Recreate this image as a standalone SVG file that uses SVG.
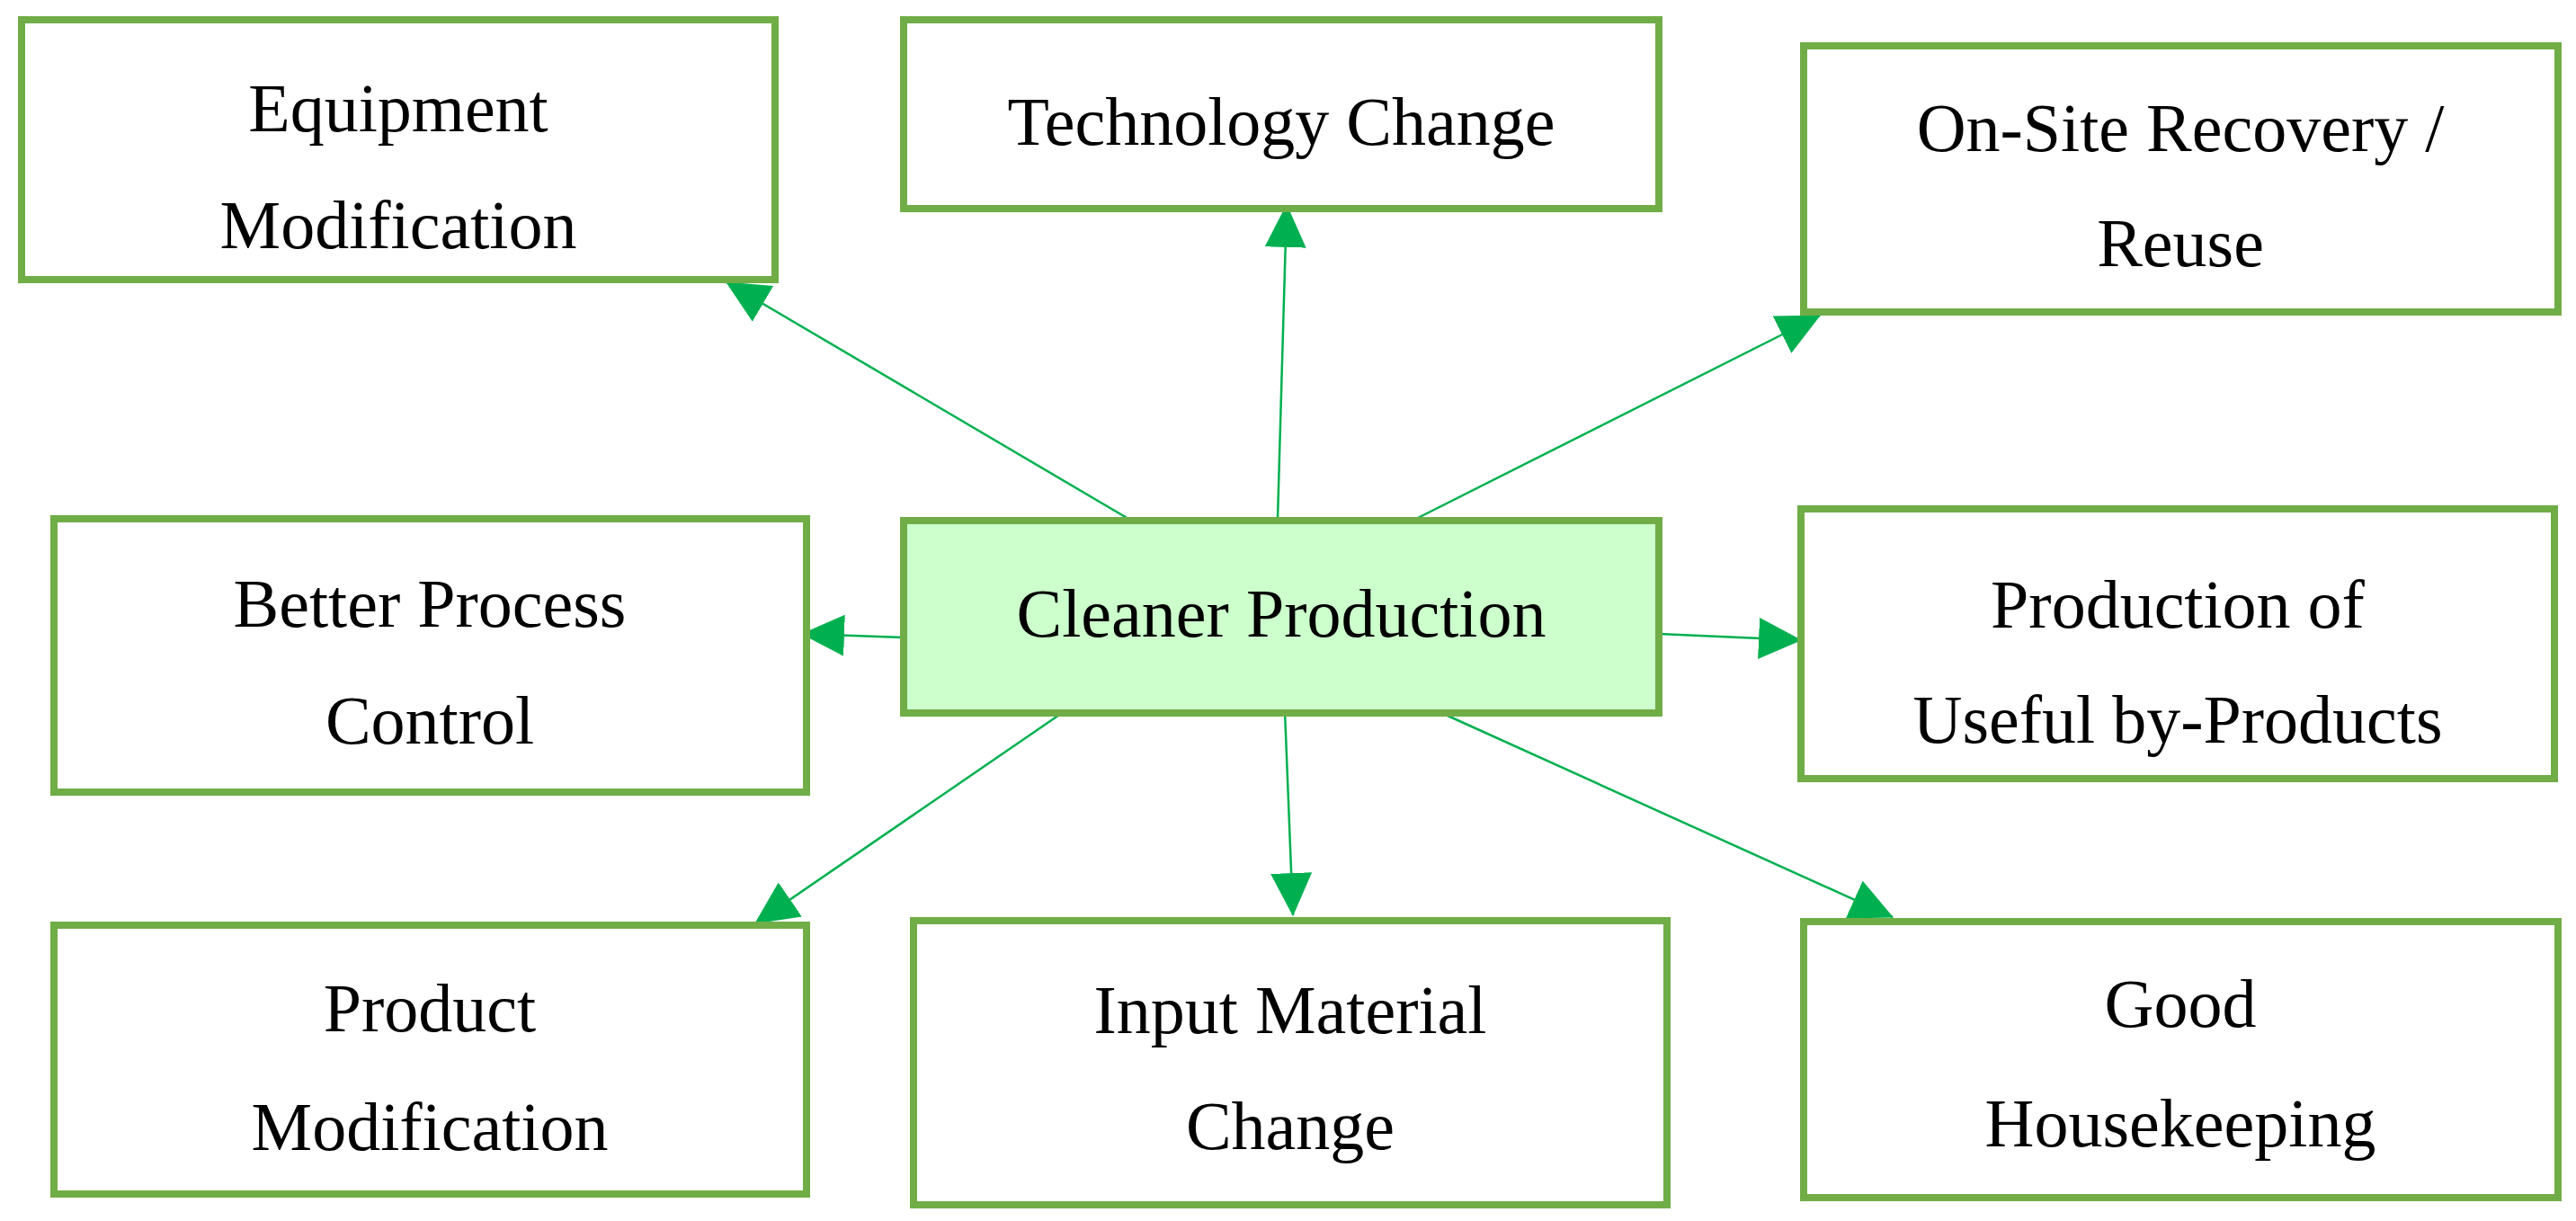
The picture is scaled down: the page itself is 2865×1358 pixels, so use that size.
<svg xmlns="http://www.w3.org/2000/svg" width="2865" height="1358" viewBox="0 0 2865 1358">
<style>
.box{fill:#fff;stroke:#70AD47;stroke-width:8}
.main{fill:#CCFFCC}
.t{font-family:"Liberation Serif","DejaVu Serif",serif;font-size:76px;fill:#000;text-anchor:middle}
.c{stroke:#00B050;stroke-width:2.5;fill:none;marker-end:url(#ah)}
</style>
<defs>
<marker id="ah" markerUnits="userSpaceOnUse" markerWidth="48" markerHeight="46" refX="47" refY="23" orient="auto">
<path d="M0,0 L48,23 L0,46 Z" fill="#00B050"/>
</marker>
</defs>
<rect width="2865" height="1358" fill="#fff"/>
<g id="connectors">
<line class="c" x1="1255" y1="577" x2="808" y2="314"/>
<line class="c" x1="1421" y1="577" x2="1431" y2="228"/>
<line class="c" x1="1575" y1="577" x2="2024" y2="351"/>
<line class="c" x1="1005" y1="709" x2="892" y2="705"/>
<line class="c" x1="1845" y1="705" x2="2003" y2="712"/>
<line class="c" x1="1184" y1="791" x2="840" y2="1027"/>
<line class="c" x1="1429" y1="791" x2="1438" y2="1018"/>
<line class="c" x1="1599" y1="791" x2="2105" y2="1020"/>
</g>
<g id="equipment"><rect class="box" x="24" y="22" width="838" height="289"/><text class="t" x="443" y="146">Equipment</text><text class="t" x="443" y="276">Modification</text></g>
<g id="technology"><rect class="box" x="1005" y="22" width="840" height="210"/><text class="t" x="1425" y="161">Technology Change</text></g>
<g id="onsite"><rect class="box" x="2006" y="51" width="839" height="296"/><text class="t" x="2425" y="168">On-Site Recovery /</text><text class="t" x="2425" y="296">Reuse</text></g>
<g id="better"><rect class="box" x="60" y="577" width="837" height="304"/><text class="t" x="478" y="697">Better Process</text><text class="t" x="478" y="827">Control</text></g>
<g id="cleaner"><rect class="box main" x="1005" y="579" width="840" height="214"/><text class="t" x="1425" y="708">Cleaner Production</text></g>
<g id="useful"><rect class="box" x="2003" y="566" width="838" height="300"/><text class="t" x="2422" y="698">Production of</text><text class="t" x="2422" y="826">Useful by-Products</text></g>
<g id="product"><rect class="box" x="60" y="1029" width="837" height="299"/><text class="t" x="478" y="1147">Product</text><text class="t" x="478" y="1279">Modification</text></g>
<g id="input"><rect class="box" x="1016" y="1024" width="838" height="316"/><text class="t" x="1435" y="1149">Input Material</text><text class="t" x="1435" y="1278">Change</text></g>
<g id="housekeeping"><rect class="box" x="2006" y="1025" width="839" height="307"/><text class="t" x="2425" y="1142">Good</text><text class="t" x="2425" y="1275">Housekeeping</text></g>
</svg>
